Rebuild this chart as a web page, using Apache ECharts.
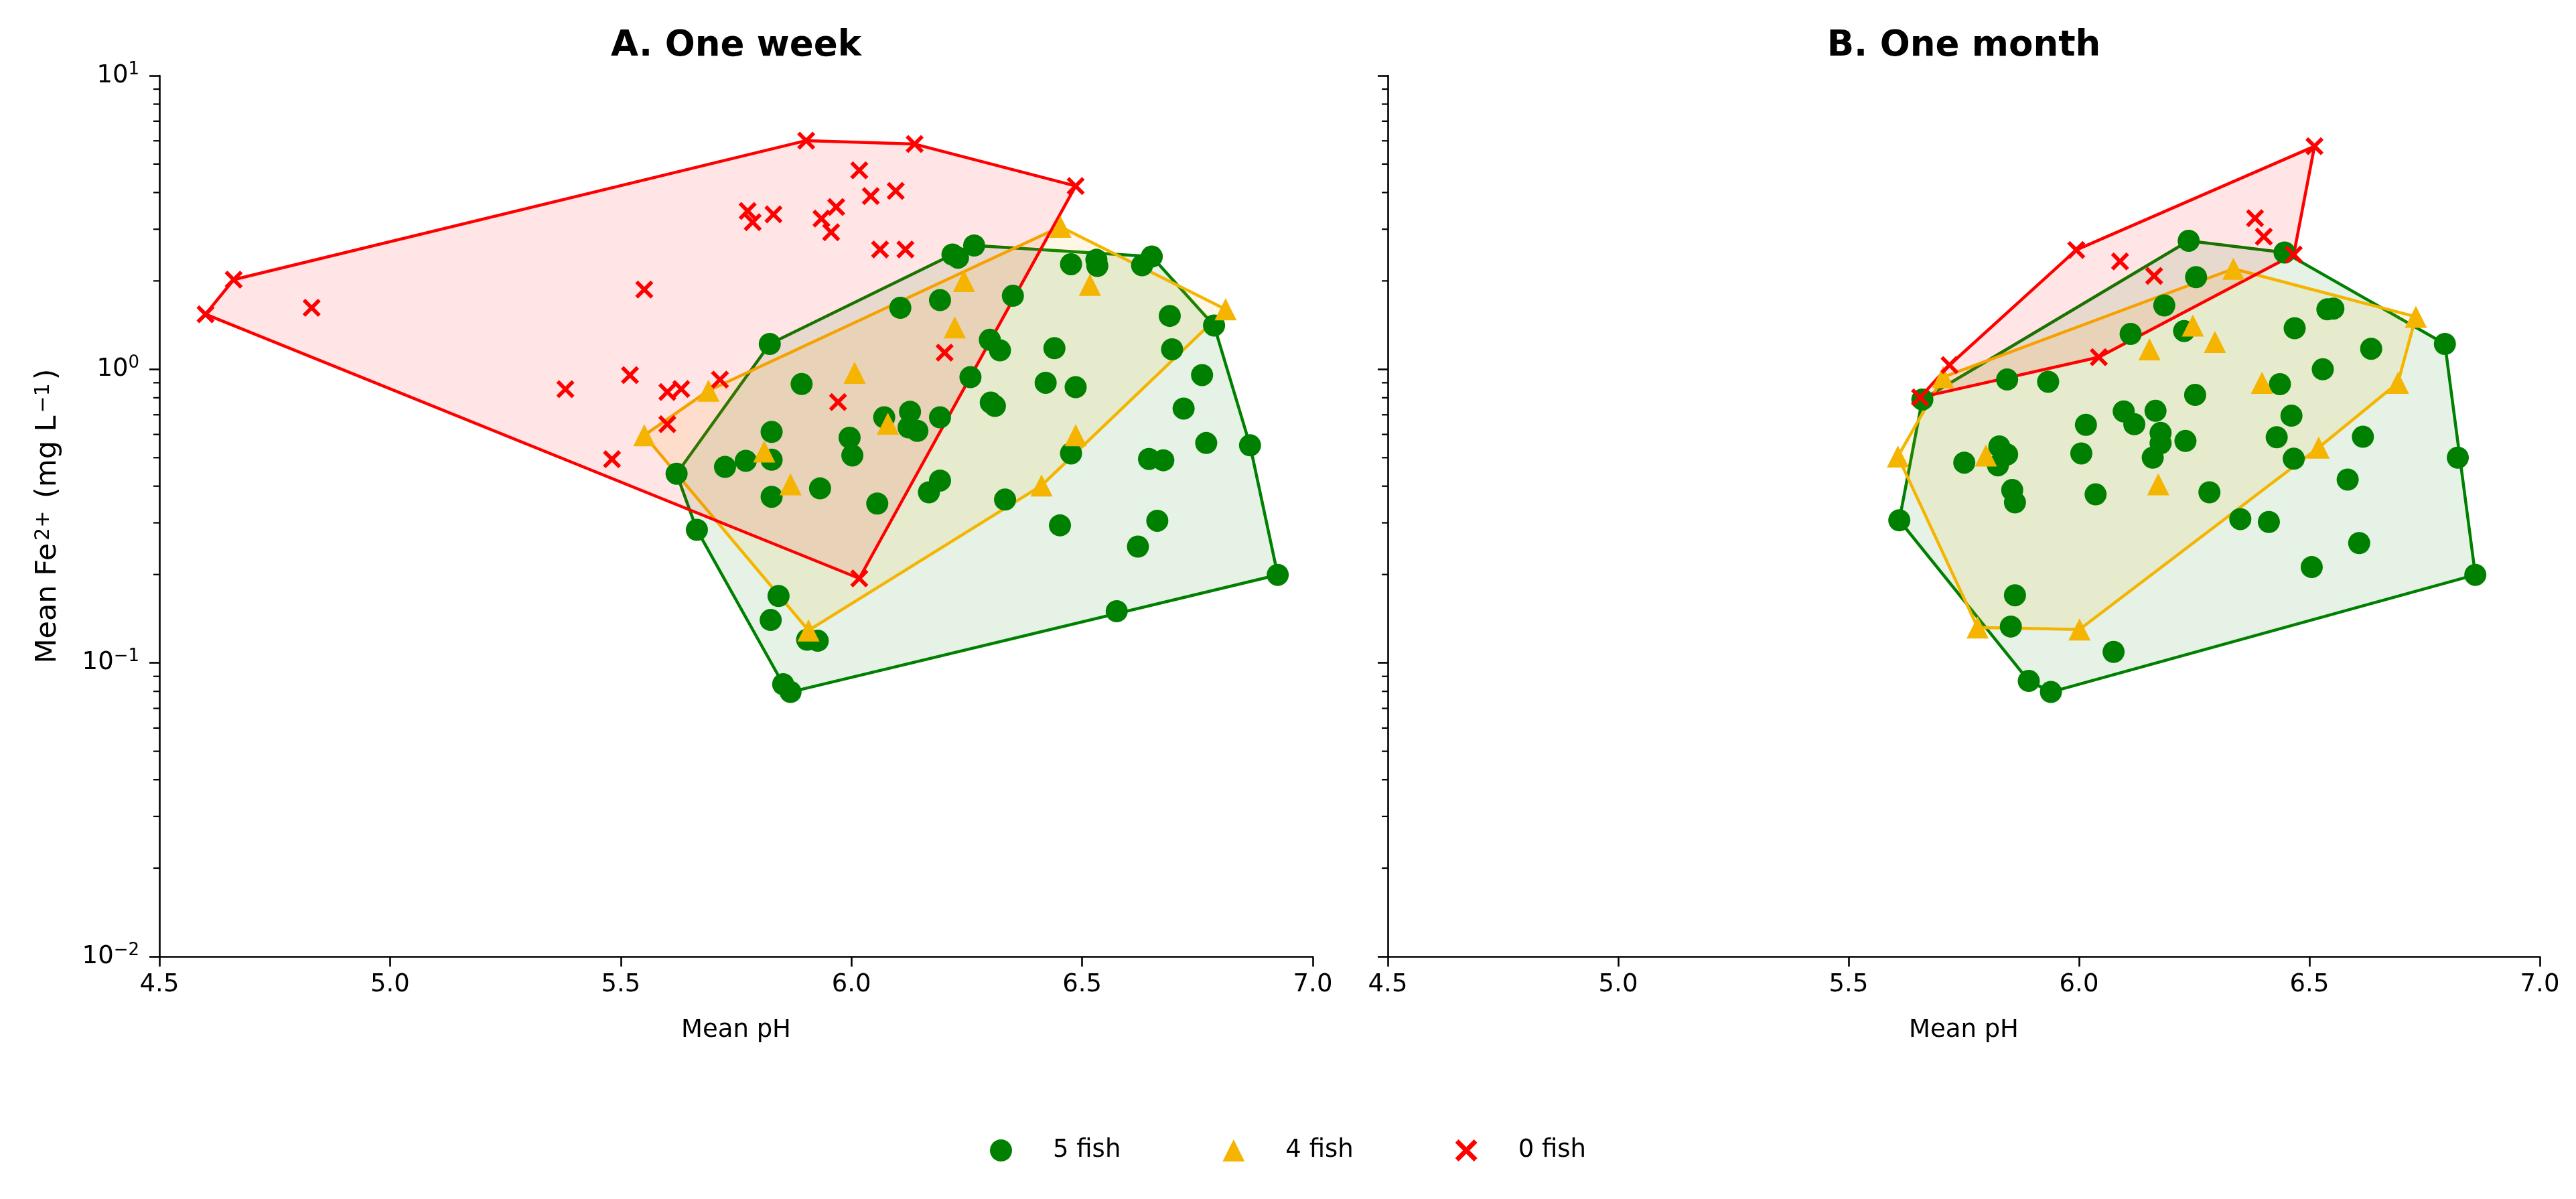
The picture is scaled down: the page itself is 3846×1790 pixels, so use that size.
<!DOCTYPE html>
<html><head><meta charset="utf-8">
<script src="https://cdn.jsdelivr.net/npm/echarts/dist/echarts.min.js"></script>
<style>html,body{margin:0;padding:0;background:#fff}#c{width:3846px;height:1790px}</style>
</head><body><div id="c"></div>
<script>
// ---------- DATA ----------
const panelTitles = ['A. One week', 'B. One month'];
const groupNames = ['5 fish', '4 fish', '0 fish'];
const xTicks = [4.5, 5.0, 5.5, 6.0, 6.5, 7.0];
const yMajorTicks = [0.01, 0.1, 1, 10];
const yMinorTicks = [0.02,0.03,0.04,0.05,0.06,0.07,0.08,0.09,0.2,0.3,0.4,0.5,0.6,0.7,0.8,0.9,2,3,4,5,6,7,8,9];

// A. One week
const week5pH = [5.621,5.665,5.726,5.771,5.823,5.827,5.827,5.827,5.825,5.842,5.852,5.868,5.892,5.904,5.927,5.932,5.996,6.002,6.056,6.071,6.106,6.127,6.124,6.143,6.168,6.192,6.192,6.192,6.219,6.231,6.258,6.266,6.300,6.302,6.311,6.322,6.333,6.350,6.421,6.440,6.452,6.476,6.476,6.486,6.531,6.533,6.575,6.621,6.630,6.645,6.651,6.663,6.676,6.690,6.695,6.720,6.760,6.769,6.786,6.864,6.924];
const week5Fe = [0.441,0.284,0.465,0.488,1.22,0.612,0.492,0.368,0.140,0.169,0.0846,0.0796,0.891,0.120,0.119,0.393,0.585,0.509,0.349,0.686,1.62,0.717,0.634,0.617,0.381,0.418,0.686,1.72,2.46,2.40,0.94,2.64,1.26,0.77,0.75,1.16,0.360,1.78,0.90,1.18,0.294,2.28,0.517,0.869,2.36,2.25,0.150,0.249,2.26,0.495,2.42,0.305,0.490,1.52,1.17,0.735,0.956,0.561,1.41,0.551,0.1995];
const week4pH = [5.551,5.690,5.811,5.868,5.907,6.007,6.079,6.224,6.244,6.412,6.453,6.486,6.517,6.811];
const week4Fe = [0.596,0.846,0.525,0.406,0.129,0.973,0.653,1.39,2.00,0.402,3.06,0.596,1.94,1.60];
const week0pH = [4.600,4.661,4.830,5.380,5.481,5.520,5.551,5.601,5.601,5.631,5.715,5.775,5.786,5.831,5.902,5.935,5.956,5.967,5.971,6.017,6.017,6.042,6.062,6.096,6.117,6.137,6.202,6.486];
const week0Fe = [1.54,2.02,1.62,0.856,0.494,0.955,1.87,0.837,0.650,0.857,0.922,3.46,3.17,3.37,6.01,3.26,2.93,3.57,0.773,4.76,0.194,3.89,2.56,4.05,2.56,5.85,1.14,4.21];

// B. One month
const month5pH = [5.610,5.660,5.751,5.827,5.844,5.824,5.844,5.855,5.861,5.861,5.852,5.891,5.933,5.939,6.005,6.015,6.036,6.075,6.097,6.112,6.120,6.160,6.166,6.177,6.177,6.185,6.228,6.231,6.238,6.252,6.254,6.283,6.350,6.412,6.429,6.436,6.446,6.461,6.466,6.468,6.505,6.529,6.539,6.552,6.583,6.608,6.616,6.634,6.794,6.822,6.860];
const month5Fe = [0.306,0.789,0.481,0.546,0.513,0.471,0.923,0.388,0.352,0.170,0.133,0.0868,0.907,0.0796,0.517,0.647,0.375,0.109,0.719,1.32,0.650,0.500,0.722,0.607,0.560,1.65,1.35,0.570,2.74,0.818,2.06,0.381,0.309,0.302,0.587,0.89,2.50,0.695,0.496,1.38,0.212,1.00,1.60,1.61,0.421,0.256,0.589,1.175,1.22,0.500,0.1995];
const month4pH = [5.607,5.705,5.780,5.798,6.001,6.153,6.172,6.247,6.295,6.335,6.397,6.520,6.692,6.731];
const month4Fe = [0.505,0.94,0.132,0.509,0.130,1.17,0.406,1.41,1.24,2.20,0.90,0.541,0.90,1.51];
const month0pH = [5.655,5.719,5.994,6.043,6.089,6.163,6.382,6.401,6.466,6.511];
const month0Fe = [0.802,1.034,2.55,1.10,2.33,2.08,3.27,2.83,2.46,5.75];

// ---------- STYLE ----------
const colors = ['#008000', '#F4B400', '#FF0000'];
const fills = ['rgba(0,128,0,0.1)', 'rgba(244,180,0,0.1)', 'rgba(255,0,0,0.1)'];
const symbols = ['circle', 'triangle', 'path://M0,15 L15,0 L50,35 L85,0 L100,15 L65,50 L100,85 L85,100 L50,65 L15,100 L0,85 L35,50 Z'];
const symbolSizes = [33, 33, 27];
const FONT = '"DejaVu Sans", sans-serif';

const panels = [
  [[week5pH, week5Fe], [week4pH, week4Fe], [week0pH, week0Fe]],
  [[month5pH, month5Fe], [month4pH, month4Fe], [month0pH, month0Fe]]
];

function zip(a, b) { return a.map((v, i) => [v, b[i]]); }

function hull(xs, ys) {
  const pts = xs.map((x, i) => [x, Math.log10(ys[i]), i]).sort((a, b) => a[0] - b[0] || a[1] - b[1]);
  const cross = (o, a, b) => (a[0]-o[0])*(b[1]-o[1]) - (a[1]-o[1])*(b[0]-o[0]);
  const lower = [], upper = [];
  for (const p of pts) { while (lower.length >= 2 && cross(lower[lower.length-2], lower[lower.length-1], p) <= 0) lower.pop(); lower.push(p); }
  for (let i = pts.length - 1; i >= 0; i--) { const p = pts[i]; while (upper.length >= 2 && cross(upper[upper.length-2], upper[upper.length-1], p) <= 0) upper.pop(); upper.push(p); }
  upper.pop(); lower.pop();
  return lower.concat(upper).map(p => [xs[p[2]], ys[p[2]]]);
}

const series = [];
panels.forEach((groups, gi) => {
  groups.forEach((g, k) => {
    const h = hull(g[0], g[1]);
    series.push({
      type: 'custom', name: 'hull' + gi + k, xAxisIndex: gi, yAxisIndex: gi, z: 1 + k * 0.01, silent: true,
      data: h,
      renderItem: function (params, api) {
        if (params.dataIndex !== 0) return null;
        const points = h.map(p => api.coord(p));
        return { type: 'polygon', shape: { points: points },
          style: { fill: fills[k], stroke: colors[k], lineWidth: 4.5, lineJoin: 'round' } };
      }
    });
  });
  groups.forEach((g, k) => {
    series.push({
      type: 'scatter', name: groupNames[k], xAxisIndex: gi, yAxisIndex: gi, z: 3,
      symbol: symbols[k], symbolSize: symbolSizes[k],
      itemStyle: { color: colors[k], opacity: 1 },
      emphasis: { disabled: true },
      data: zip(g[0], g[1])
    });
  });
  series.push({
    type: 'custom', name: 'minor' + gi, xAxisIndex: gi, yAxisIndex: gi, silent: true, clip: false, z: 5,
    data: yMinorTicks.map(v => [xTicks[0], v]),
    renderItem: function (params, api) {
      const p = api.coord([api.value(0), api.value(1)]);
      return { type: 'line', shape: { x1: p[0] - 9, y1: p[1], x2: p[0], y2: p[1] },
        style: { stroke: '#000', lineWidth: 2.2 } };
    }
  });
});

const grids = [
  { left: 238, top: 113, width: 1722, height: 1315 },
  { left: 2072, top: 113, width: 1720, height: 1315 }
];

const axisLineStyle = { show: true, onZero: false, lineStyle: { color: '#000', width: 2.6 } };
const axisTick = { show: true, inside: false, length: 15, lineStyle: { color: '#000', width: 2.6 } };

const xAxes = grids.map((g, i) => ({
  gridIndex: i, type: 'value', min: xTicks[0], max: xTicks[xTicks.length - 1], interval: 0.5,
  name: 'Mean pH', nameLocation: 'middle', nameGap: 92,
  nameTextStyle: { fontFamily: FONT, fontSize: 37, color: '#000' },
  axisLine: axisLineStyle, axisTick: axisTick, splitLine: { show: false },
  axisLabel: { show: true, margin: 24, fontFamily: FONT, fontSize: 37, color: '#000',
    formatter: v => v.toFixed(1) }
}));

const yAxes = grids.map((g, i) => ({
  gridIndex: i, type: 'log', logBase: 10, min: yMajorTicks[0], max: yMajorTicks[yMajorTicks.length - 1], splitNumber: 3,
  name: i === 0 ? 'Mean Fe{sup|2+} (mg L{sup|\u22121})' : '', nameLocation: 'middle', nameGap: 145, nameRotate: 90,
  nameTextStyle: { fontFamily: FONT, fontSize: 43, color: '#000',
    rich: { sup: { fontFamily: FONT, fontSize: 30, color: '#000', verticalAlign: 'top', lineHeight: 31, padding: [0, 5, 0, 4] } } },
  axisLine: axisLineStyle, axisTick: axisTick, splitLine: { show: false },
  axisLabel: { show: i === 0, margin: 30, color: '#000',
    formatter: v => { const e = Math.round(Math.log10(v)); return '{b|10}{s|' + (e < 0 ? '\u2212' + (-e) : e) + '}'; },
    rich: {
      b: { fontFamily: FONT, fontSize: 37, color: '#000', lineHeight: 44 },
      s: { fontFamily: FONT, fontSize: 26, color: '#000', lineHeight: 28, verticalAlign: 'top' }
    } }
}));

const option = {
  animation: false,
  backgroundColor: '#fff',
  grid: grids,
  xAxis: xAxes,
  yAxis: yAxes,
  legend: {
    data: groupNames, left: 'center', top: 1694, orient: 'horizontal',
    itemWidth: 33, itemHeight: 33, itemGap: 152, selectedMode: false,
    textStyle: { fontFamily: FONT, fontSize: 37, color: '#000', padding: [0, 0, 0, 56] }
  },
  graphic: panelTitles.map((t, i) => ({
    type: 'text', x: grids[i].left + grids[i].width / 2, y: 69,
    style: { text: t, font: 'bold 53px "DejaVu Sans", sans-serif', fill: '#000',
      align: 'center', verticalAlign: 'middle', textAlign: 'center', textVerticalAlign: 'middle' }
  })),
  series: series
};

const chart = echarts.init(document.getElementById('c'), null, { renderer: 'canvas', width: 3846, height: 1790 });
chart.setOption(option);
</script>
</body></html>
